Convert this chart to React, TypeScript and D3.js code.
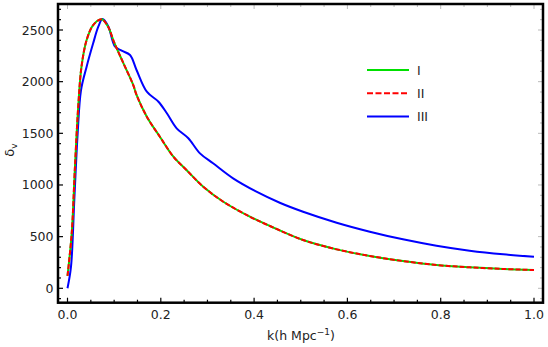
import React from "react";
import * as d3 from "d3";

// curves I and II coincide; III is the blue one
const kI = [0, 0.009, 0.016, 0.023, 0.03, 0.041, 0.055, 0.073, 0.087, 0.1, 0.12, 0.141, 0.148, 0.17, 0.198, 0.227, 0.255, 0.291, 0.334, 0.391, 0.434, 0.505, 0.577, 0.648, 0.719, 0.791, 0.862, 0.934, 1.0];
const vI = [120, 530, 1177, 1758, 2145, 2403, 2548, 2603, 2532, 2380, 2177, 1967, 1871, 1661, 1467, 1274, 1145, 983, 838, 693, 603, 467, 377, 313, 264, 225, 203, 187, 177];

const kIII = [0, 0.0075, 0.0146, 0.0218, 0.029, 0.041, 0.055, 0.066, 0.075, 0.087, 0.102, 0.116, 0.134, 0.148, 0.17, 0.195, 0.213, 0.234, 0.259, 0.284, 0.312, 0.355, 0.405, 0.455, 0.505, 0.577, 0.648, 0.719, 0.791, 0.862, 0.934, 1.0];
const vIII = [0, 209, 855, 1500, 1919, 2145, 2371, 2532, 2606, 2540, 2338, 2300, 2258, 2113, 1903, 1806, 1694, 1548, 1452, 1306, 1210, 1064, 935, 828, 741, 635, 548, 474, 412, 364, 329, 306];

const xTicks = [0, 0.2, 0.4, 0.6, 0.8, 1.0];
const yTicks = [0, 500, 1000, 1500, 2000, 2500];
const legendNames = ["I", "II", "III"];

const W = 548;
const H = 347;
const L = 58, R = 543, T = 4, B = 302.7;

export default function App() {
  const x = d3.scaleLinear().domain([0, 1]).range([67.5, 534]);
  const y = d3.scaleLinear().domain([0, 2500]).range([288.3, 30]);

  const line = d3
    .line<[number, number]>()
    .x((d) => x(d[0]))
    .y((d) => y(d[1]))
    .curve(d3.curveCatmullRom.alpha(0.5));

  const dI = line(kI.map((k, i) => [k, vI[i]]))!;
  const dIII = line(kIII.map((k, i) => [k, vIII[i]]))!;

  const xMinor = d3.range(0, 1.0001, 0.05).filter((v) => Math.abs(v * 5 - Math.round(v * 5)) > 1e-6);
  const yMinor = d3.range(-100, 2701, 100).filter((v) => v % 500 !== 0);

  const font = "DejaVu Sans, sans-serif";
  const legendColors = ["#00e000", "#ff0000", "#0000ff"];

  return (
    <svg width={W} height={H} style={{ position: "absolute", left: 0, top: 0 }} fontFamily={font}>
      <rect x={0} y={0} width={W} height={H} fill="white" />
      {/* mirrored ticks on top and right */}
      {xTicks.map((t) => (
        <line key={"tx" + t} x1={x(t)} x2={x(t)} y1={T} y2={T + 5} stroke="#bbb" strokeWidth={1} />
      ))}
      {xMinor.map((t) => (
        <line key={"tmx" + t} x1={x(t)} x2={x(t)} y1={T} y2={T + 3} stroke="#bbb" strokeWidth={1} />
      ))}
      {yTicks.map((t) => (
        <line key={"ry" + t} x1={R - 5} x2={R} y1={y(t)} y2={y(t)} stroke="#bbb" strokeWidth={1} />
      ))}
      {yMinor.map((t) => (
        <line key={"rmy" + t} x1={R - 3} x2={R} y1={y(t)} y2={y(t)} stroke="#bbb" strokeWidth={1} />
      ))}
      {/* bottom and left ticks */}
      {xTicks.map((t) => (
        <line key={"bx" + t} x1={x(t)} x2={x(t)} y1={B} y2={B - 5} stroke="#000" strokeWidth={1.2} />
      ))}
      {xMinor.map((t) => (
        <line key={"bmx" + t} x1={x(t)} x2={x(t)} y1={B} y2={B - 3} stroke="#000" strokeWidth={1.2} />
      ))}
      {yTicks.map((t) => (
        <line key={"ly" + t} x1={L} x2={L + 5} y1={y(t)} y2={y(t)} stroke="#000" strokeWidth={1.2} />
      ))}
      {yMinor.map((t) => (
        <line key={"lmy" + t} x1={L} x2={L + 3} y1={y(t)} y2={y(t)} stroke="#000" strokeWidth={1.2} />
      ))}

      <path d={dIII} fill="none" stroke="#0000ff" strokeWidth={2} />
      <path d={dI} fill="none" stroke="#00e000" strokeWidth={2} />
      <path d={dI} fill="none" stroke="#ff0000" strokeWidth={2} strokeDasharray="5,2" />

      {/* frame */}
      <rect x={L} y={T} width={R - L} height={B - T} fill="none" stroke="#000" strokeWidth={2.5} />

      {xTicks.map((t) => (
        <text key={"xl" + t} x={x(t)} y={319} textAnchor="middle" fontSize={12.5} fill="#222">
          {t.toFixed(1)}
        </text>
      ))}
      {yTicks.map((t) => (
        <text key={"yl" + t} x={53.5} y={y(t) + 4.5} textAnchor="end" fontSize={12.5} fill="#222">
          {t}
        </text>
      ))}

      <text x={301} y={340} textAnchor="middle" fontSize={12.5} fill="#222">
        k(h Mpc<tspan dy={-5} fontSize={9}>−1</tspan><tspan dy={5}>)</tspan>
      </text>
      <text transform="translate(14,150) rotate(-90)" textAnchor="middle" fontSize={13} fill="#222">
        δ<tspan dy={3} fontSize={9}>v</tspan>
      </text>

      {legendNames.map((n, i) => (
        <g key={n}>
          <line
            x1={367}
            x2={409}
            y1={70 + i * 23.2}
            y2={70 + i * 23.2}
            stroke={legendColors[i]}
            strokeWidth={2}
            strokeDasharray={i === 1 ? "6,2.5" : undefined}
          />
          <text x={417} y={70 + i * 23.2 + 4.5} fontSize={12.5} fill="#222">
            {n}
          </text>
        </g>
      ))}
    </svg>
  );
}
